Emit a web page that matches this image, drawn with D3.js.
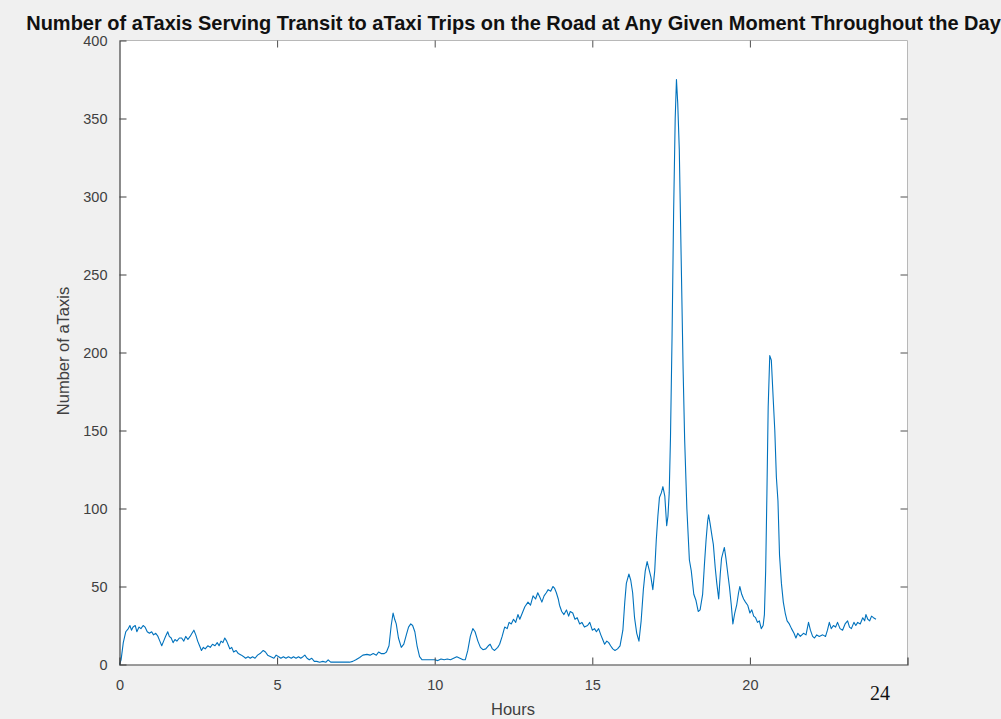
<!DOCTYPE html>
<html>
<head>
<meta charset="utf-8">
<script src="https://cdn.jsdelivr.net/npm/d3@7"></script>
<style>
  html, body { margin: 0; padding: 0; background: #f0f0f0; }
  svg { display: block; }
</style>
</head>
<body>
<script>
// ---------- data ----------
const titleText = "Number of aTaxis Serving Transit to aTaxi Trips on the Road at Any Given Moment Throughout the Day";
const xLabel = "Hours";
const yLabel = "Number of aTaxis";
const xTicks = [0, 5, 10, 15, 20];
const yTicks = [0, 50, 100, 150, 200, 250, 300, 350, 400];
const extraLabel = "24";

const hours = [
0.00,0.05,0.12,0.20,0.28,0.33,0.38,0.43,0.50,0.55,0.62,0.68,0.75,0.81,0.88,0.95,1.02,1.08,1.15,1.22,
1.28,1.34,1.40,1.46,1.53,1.58,1.64,1.70,1.76,1.82,1.90,1.97,2.04,2.10,2.17,2.24,2.30,2.36,2.42,2.48,
2.54,2.60,2.66,2.72,2.80,2.88,2.95,3.03,3.10,3.16,3.22,3.28,3.34,3.40,3.46,3.50,3.56,3.62,3.70,3.77,
3.87,3.94,4.00,4.08,4.15,4.22,4.30,4.38,4.46,4.56,4.63,4.70,4.80,4.90,4.97,5.05,5.12,5.20,5.28,5.36,
5.45,5.52,5.60,5.68,5.75,5.82,5.88,5.95,6.02,6.10,6.18,6.26,6.35,6.45,6.55,6.62,6.70,6.80,6.90,7.00,
7.10,7.20,7.30,7.40,7.50,7.62,7.72,7.85,7.95,8.05,8.15,8.22,8.30,8.40,8.47,8.55,8.62,8.68,8.73,8.78,
8.85,8.94,9.02,9.10,9.17,9.24,9.30,9.37,9.44,9.52,9.60,9.70,9.80,9.90,10.00,10.10,10.20,10.30,10.40,10.50,
10.60,10.70,10.80,10.90,10.97,11.05,11.13,11.21,11.28,11.37,11.45,11.53,11.62,11.70,11.76,11.83,11.90,12.00,12.06,12.14,
12.22,12.30,12.36,12.43,12.50,12.57,12.64,12.70,12.78,12.86,12.96,13.04,13.12,13.20,13.27,13.34,13.40,13.47,13.54,13.60,
13.68,13.75,13.80,13.86,13.92,13.96,14.03,14.10,14.18,14.25,14.30,14.38,14.45,14.52,14.60,14.67,14.75,14.85,14.92,15.00,
15.07,15.13,15.20,15.27,15.33,15.39,15.46,15.52,15.58,15.65,15.72,15.80,15.88,15.97,16.03,16.08,16.16,16.22,16.28,16.34,
16.41,16.48,16.55,16.62,16.68,16.74,16.80,16.86,16.92,16.98,17.03,17.08,17.13,17.19,17.24,17.30,17.36,17.40,17.44,17.48,
17.53,17.58,17.63,17.67,17.71,17.76,17.82,17.88,17.93,18.00,18.08,18.14,18.22,18.29,18.36,18.42,18.50,18.56,18.61,18.66,
18.69,18.74,18.80,18.84,18.90,18.95,19.01,19.06,19.10,19.15,19.19,19.24,19.30,19.35,19.41,19.46,19.52,19.58,19.64,19.68,
19.74,19.80,19.86,19.93,20.00,20.06,20.12,20.18,20.24,20.30,20.36,20.42,20.46,20.50,20.54,20.58,20.63,20.68,20.74,20.79,
20.84,20.89,20.94,21.00,21.06,21.12,21.18,21.25,21.32,21.40,21.46,21.52,21.60,21.70,21.78,21.86,21.92,21.99,22.05,22.12,
22.20,22.31,22.40,22.46,22.52,22.58,22.65,22.72,22.78,22.86,22.94,23.02,23.10,23.16,23.22,23.30,23.36,23.42,23.50,23.58,
23.64,23.68,23.74,23.80,23.86,23.92,24.00
];

const taxis = [
0,3,14,21,23,25,22,24,25,21,24,23,25,24,21,20,21,19,20,18,
15,12,15,18,21,18,17,14,16,15,17,17,15,18,16,18,20,22,19,15,
12,9,11,10,12,11,13,12,14,12,15,14,17,15,12,10,11,8,9,7,
6,5,4,5,4,5,4,6,7,9,8,6,5,4,6,5,4,5,4,5,
4,5,4,5,4,5,6,4,3,4,2,2,1.5,2,1.5,3,1.5,1.5,1.5,1.5,
1.5,1.5,1.5,2,3,4.5,6,6.5,6,7,6,8,7,7,8,12,25,33,29,26,
17,11,13,19,24,26,25,21,12,5,3,3,3,3,3,2.5,3.5,3,3.5,3,
4,5,4,3,3,9,18,23,21,15,11,9.5,10,12,13,10,9,11,13,18,
24,23,27,26,29,27,32,29,33,37,40,38,44,42,46,43,40,44,46,48,
47,50,49,46,42,38,34,32,35,31,34,33,29,30,26,27,24,25,27,22,
23,21,23,19,16,13,15,14,12,10,9,10,12,22,40,52,58,54,46,30,
20,15,28,48,60,66,61,56,48,60,80,95,107,110,114,108,89,95,110,145,
210,290,350,375,360,330,260,190,144,100,67,60,45,41,34,35,45,65,80,92,
96,90,82,77,62,52,42,58,68,72,75,68,58,50,38,26,33,38,46,50,
45,42,40,38,33,35,31,30,27,28,23,25,32,60,110,165,198,195,170,150,
120,105,70,52,40,33,28,26,23,20,17,20,18,20,19,27,22,18,17,19,
18,19,18,22,27,23,25,24,27,23,22,26,28,24,23,27,25,27,26,30,
28,32,29,28,31,30,29
];

// ---------- layout ----------
const W = 1001, H = 719;
const plot = { left: 119.5, right: 907.5, top: 40.5, bottom: 664.5 };
const font = "'Liberation Sans', Arial, Helvetica, sans-serif";

const svg = d3.select("body").append("svg").attr("width", W).attr("height", H);
svg.append("rect").attr("width", W).attr("height", H).attr("fill", "#f0f0f0");

const x = d3.scaleLinear().domain([0, 25]).range([plot.left, plot.right]);
const y = d3.scaleLinear().domain([0, 400]).range([plot.bottom, plot.top]);

svg.append("rect")
  .attr("x", plot.left).attr("y", plot.top)
  .attr("width", plot.right - plot.left).attr("height", plot.bottom - plot.top)
  .attr("fill", "#ffffff");

// line
const data = hours.map((h, i) => [h, taxis[i]]);
svg.append("path")
  .datum(data)
  .attr("fill", "none")
  .attr("stroke", "#0072BD")
  .attr("stroke-width", 1.1)
  .attr("stroke-linejoin", "round")
  .attr("d", d3.line().x(d => x(d[0])).y(d => y(d[1])));

// frame: top/right lighter
svg.append("line").attr("x1", plot.left).attr("x2", plot.right).attr("y1", plot.top).attr("y2", plot.top)
  .attr("stroke", "#b8b8b8").attr("stroke-width", 1);
svg.append("line").attr("x1", plot.right).attr("x2", plot.right).attr("y1", plot.top).attr("y2", plot.bottom)
  .attr("stroke", "#b8b8b8").attr("stroke-width", 1);

// axes with inward ticks
const tickLen = 7;
const gx = svg.append("g").attr("transform", `translate(0,${plot.bottom})`)
  .call(d3.axisBottom(x).tickValues(xTicks).tickSize(-tickLen).tickPadding(tickLen + 8).tickFormat(d3.format("d")));
const gy = svg.append("g").attr("transform", `translate(${plot.left},0)`)
  .call(d3.axisLeft(y).tickValues(yTicks).tickSize(-tickLen).tickPadding(tickLen + 5).tickFormat(d3.format("d")));
const gxTop = svg.append("g").attr("transform", `translate(0,${plot.top})`)
  .call(d3.axisTop(x).tickValues(xTicks).tickSize(-tickLen).tickFormat(""));
const gyRight = svg.append("g").attr("transform", `translate(${plot.right},0)`)
  .call(d3.axisRight(y).tickValues(yTicks).tickSize(-tickLen).tickFormat(""));

[gx, gy].forEach(g => {
  g.select(".domain").attr("stroke", "#404040").attr("stroke-width", 1.2);
  g.selectAll(".tick line").attr("stroke", "#404040");
  g.selectAll(".tick text").attr("fill", "#404040").style("font-family", font).style("font-size", "14.5px");
});
[gxTop, gyRight].forEach(g => {
  g.select(".domain").remove();
  g.selectAll(".tick line").attr("stroke", "#505050");
});
// hide ticks that coincide with the corners
gx.selectAll(".tick line").filter(d => d === 0).remove();
gxTop.selectAll(".tick line").filter(d => d === 0).remove();
gy.selectAll(".tick line").filter(d => d === 0 || d === 400).remove();
gyRight.selectAll(".tick line").filter(d => d === 0 || d === 400).remove();
gy.selectAll(".tick text").attr("dy", "0.35em");

// axis labels
svg.append("text")
  .attr("x", 513).attr("y", 715)
  .attr("text-anchor", "middle")
  .style("font-family", font).style("font-size", "16.5px").attr("fill", "#404040")
  .text(xLabel);

svg.append("text")
  .attr("transform", `translate(69,351) rotate(-90)`)
  .attr("text-anchor", "middle")
  .style("font-family", font).style("font-size", "16.5px").attr("fill", "#404040")
  .text(yLabel);

// title, fitted to width
const title = svg.append("text")
  .attr("x", 513.5).attr("y", 30)
  .attr("text-anchor", "middle")
  .style("font-family", font).style("font-weight", "bold").style("font-size", "17px")
  .attr("fill", "#111")
  .text(titleText);
const tw = title.node().getComputedTextLength();
title.style("font-size", (17 * 975 / tw).toFixed(2) + "px");

// extra serif "24"
svg.append("text")
  .attr("x", 880).attr("y", 700)
  .attr("text-anchor", "middle")
  .style("font-family", "'Liberation Serif', 'Times New Roman', serif").style("font-size", "20px")
  .attr("fill", "#111")
  .text(extraLabel);
</script>
</body>
</html>
